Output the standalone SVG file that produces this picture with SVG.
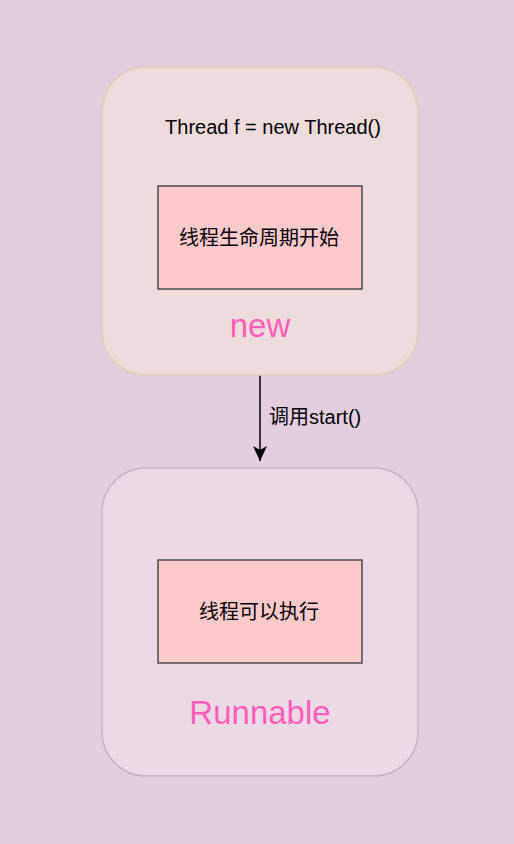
<svg xmlns="http://www.w3.org/2000/svg" width="514" height="844" viewBox="0 0 514 844">
<style>
.lbl{font-family:"Liberation Sans","Noto Sans CJK SC",sans-serif;fill:#000;font-size:20px}
.state{font-family:"Liberation Sans",Arial,sans-serif;fill:#FF5EB8;font-size:33px;text-anchor:middle}
.inner{fill:#FCCACB;stroke:#4a4a4f;stroke-width:1.5}
</style>
<defs>
<marker id="arr" markerWidth="16" markerHeight="16" refX="15" refY="7" orient="auto" markerUnits="userSpaceOnUse">
<path d="M0,0 L15,7 L0,14 L4,7 Z" fill="#000"/>
</marker>
</defs>
<rect width="514" height="844" fill="#E3CEE0"/>
<g id="connectors">
<line x1="260" y1="375" x2="260" y2="461" stroke="#000" stroke-width="1.5" marker-end="url(#arr)"/>
<text class="lbl" x="269" y="424">调用start()</text>
</g>
<g id="node-new">
<rect x="102" y="67" width="316" height="308" rx="44" fill="#EEDBDC" stroke="#E3CCB8" stroke-width="1.5"/>
<text class="lbl" x="273" y="134" text-anchor="middle">Thread f = new Thread()</text>
<text class="state" x="260" y="337">new</text>
</g>
<g id="node-new-inner">
<rect class="inner" x="158" y="186" width="204" height="103"/>
<text class="lbl" x="259" y="245" text-anchor="middle">线程生命周期开始</text>
</g>
<g id="node-runnable">
<rect x="102" y="468" width="316" height="308" rx="44" fill="#EBD9E5" stroke="#C7B4C3" stroke-width="1.5"/>
<text class="state" x="260" y="724">Runnable</text>
</g>
<g id="node-runnable-inner">
<rect class="inner" x="158" y="560" width="204" height="103"/>
<text class="lbl" x="259" y="619" text-anchor="middle">线程可以执行</text>
</g>
</svg>
